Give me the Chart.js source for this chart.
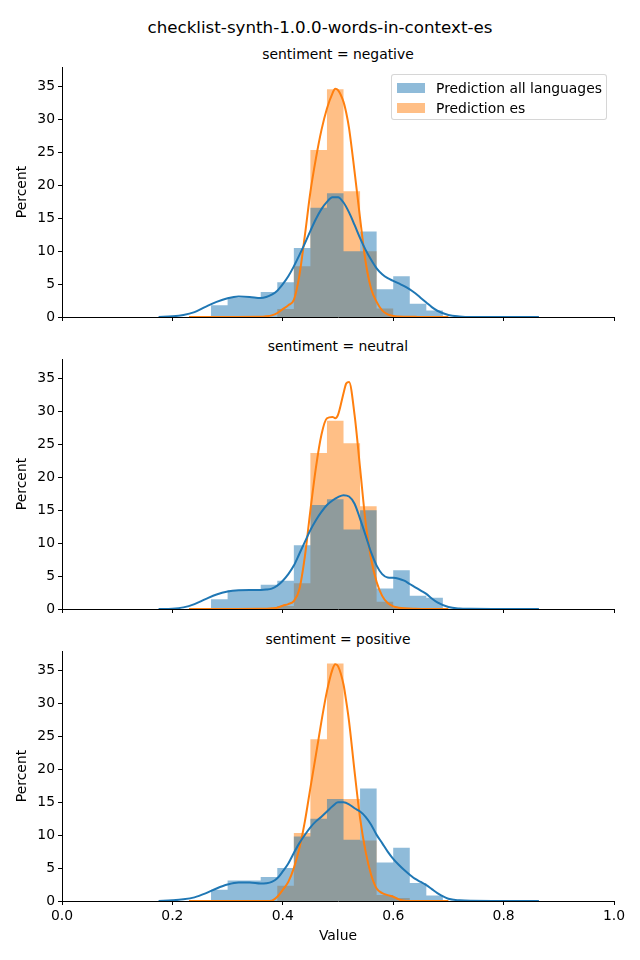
<!DOCTYPE html>
<html>
<head>
<meta charset="utf-8">
<script src="https://cdn.jsdelivr.net/npm/chart.js@4.4.0/dist/chart.umd.min.js"></script>
<style>
  body { margin: 0; background: #fff; font-family: 'DejaVu Sans', sans-serif; }
  #page { position: relative; width: 640px; height: 960px; overflow: hidden; }
  .lbl { position: absolute; white-space: nowrap; transform: translate(-50%, -50%); color: #000; }
  canvas { position: absolute; left: 0; }
  #legend {
    position: absolute; left: 391px; top: 74px; width: 214px; height: 44px;
    border: 1px solid rgba(204,204,204,0.8); border-radius: 3px; background: rgba(255,255,255,0.8);
    font-size: 13.9px; color: #000; z-index: 2;
  }
  .item { position: absolute; left: 5px; height: 16px; display: flex; align-items: center; }
  .sw { width: 28px; height: 10px; margin-right: 11px; }
</style>
</head>
<body>
<div id="page">
  <div class="lbl" style="left:320px;top:27px;font-size:16.7px">checklist-synth-1.0.0-words-in-context-es</div>
  <div class="lbl" style="left:338px;top:54px;font-size:13.9px">sentiment = negative</div>
  <div class="lbl" style="left:338px;top:346px;font-size:13.9px">sentiment = neutral</div>
  <div class="lbl" style="left:338px;top:639px;font-size:13.9px">sentiment = positive</div>
  <canvas id="negChart" width="640" height="278" style="top:53px"></canvas>
  <canvas id="neuChart" width="640" height="278" style="top:345px"></canvas>
  <canvas id="posChart" width="640" height="312" style="top:637px"></canvas>
  <div id="legend"></div>
</div>
<script>
// ─── ข้อมูล ─────────────────────────────────────────────
const SERIES = ['Prediction all languages', 'Prediction es']

// ขอบ bin ของ histogram (ความกว้าง 0.03)
const binEdges = [0.18, 0.21, 0.24, 0.27, 0.30, 0.33, 0.36, 0.39, 0.42, 0.45, 0.48, 0.51,
                  0.54, 0.57, 0.60, 0.63, 0.66, 0.69, 0.72, 0.75, 0.78, 0.81, 0.84, 0.87]

const negAll = [0, 0, 0, 1.8, 2.9, 2.9, 3.8, 5.3, 10.5, 16.6, 18.8, 10.0, 13.0, 4.2, 6.2, 2.0, 1.0, 0, 0, 0, 0, 0, 0]
const negEs  = [0, 0, 0, 0, 0, 0, 0, 1.2, 7.7, 25.4, 34.6, 19.1, 10.0, 1.3, 0, 0, 0, 0, 0, 0, 0, 0, 0]
const neuAll = [0, 0, 0, 1.5, 2.85, 2.85, 3.7, 4.3, 9.7, 15.8, 16.7, 12.1, 15.0, 3.1, 5.9, 2.0, 1.7, 0, 0, 0, 0, 0, 0]
const neuEs  = [0, 0, 0, 0, 0, 0, 0, 0.45, 3.9, 23.7, 28.6, 25.2, 15.6, 1.1, 0.2, 0, 0, 0, 0, 0, 0, 0, 0]
const posAll = [0, 0, 0, 1.7, 3.1, 3.1, 3.65, 5.0, 9.8, 12.5, 15.5, 9.3, 17.1, 5.85, 8.1, 2.75, 0.85, 0, 0, 0, 0, 0, 0]
const posEs  = [0, 0, 0, 0, 0, 0, 0, 2.3, 10.35, 24.6, 36.1, 15.5, 9.2, 0.9, 0.45, 0, 0, 0, 0, 0, 0, 0, 0]

// KDE (อ่านค่าจากภาพ)
const kdeAllX = [0.175, 0.20, 0.22, 0.24, 0.26, 0.28, 0.30, 0.32, 0.34, 0.36,
                 0.37, 0.38, 0.39, 0.40, 0.41, 0.42, 0.43, 0.44, 0.45, 0.46, 0.47, 0.48, 0.49, 0.50,
                 0.51, 0.52, 0.53, 0.54, 0.55, 0.56, 0.57, 0.58, 0.59, 0.60, 0.61, 0.62, 0.63, 0.64,
                 0.65, 0.66, 0.67, 0.68, 0.70, 0.72, 0.74, 0.78, 0.82, 0.864]
const kdeNegAll = [0, 0.1, 0.3, 0.75, 1.55, 2.3, 2.85, 3.1, 3.05, 2.9,
                   3.05, 3.4, 4.0, 5.0, 6.2, 7.7, 9.4, 11.2, 13.1, 14.9, 16.4, 17.5, 18.2, 18.2,
                   17.4, 15.9, 14.0, 12.0, 10.2, 8.7, 7.4, 6.5, 5.9, 5.5, 5.1, 4.7, 4.2, 3.6,
                   2.9, 2.2, 1.5, 0.95, 0.3, 0.08, 0, 0, 0, 0]
const kdeNeuAll = [0, 0.05, 0.25, 0.75, 1.5, 2.2, 2.65, 2.85, 2.9, 2.9,
                   2.95, 3.1, 3.55, 4.3, 5.3, 6.6, 8.4, 10.2, 12.0, 13.5, 14.75, 15.8, 16.5, 17.0,
                   17.3, 17.1, 16.0, 13.7, 11.2, 8.6, 6.6, 5.3, 4.8, 4.75, 4.6, 4.3, 3.8, 3.3,
                   2.8, 2.3, 1.6, 1.0, 0.3, 0.07, 0.02, 0, 0, 0]
const kdePosAll = [0, 0.1, 0.25, 0.55, 1.15, 1.9, 2.5, 2.8, 2.8, 2.65,
                   2.7, 2.9, 3.45, 4.5, 5.7, 7.3, 8.8, 10.05, 11.2, 12.1, 12.8, 13.6, 14.4, 15.0,
                   15.0, 14.7, 14.1, 13.6, 12.8, 11.6, 10.05, 8.8, 7.5, 6.4, 5.5, 4.7, 4.0, 3.35,
                   2.9, 2.4, 1.8, 1.2, 0.35, 0.1, 0.02, 0, 0, 0]

const kdeEsX = [0.23, 0.30, 0.36, 0.37, 0.38, 0.39, 0.40, 0.41, 0.42, 0.43, 0.44, 0.45, 0.46, 0.47,
                0.48, 0.49, 0.495, 0.50, 0.51, 0.515, 0.52, 0.53, 0.54, 0.55, 0.56, 0.57, 0.58,
                0.59, 0.60, 0.61, 0.62, 0.64, 0.66, 0.70]
const kdeNegEs = [0, 0, 0.02, 0.1, 0.25, 0.6, 1.2, 1.8, 2.6, 6.3, 12.4, 19.0, 24.1, 28.4,
                  31.7, 34.0, 34.7, 34.5, 32.7, 31.0, 28.7, 22.1, 15.0, 8.4, 4.3, 2.3, 1.0,
                  0.4, 0.15, 0.08, 0.05, 0.02, 0, 0]
const kdeNeuEs = [0, 0, 0.02, 0.05, 0.1, 0.2, 0.5, 0.75, 1.2, 3.0, 8.0, 15.0, 21.5, 26.5,
                  29.0, 29.2, 29.0, 29.5, 32.8, 34.3, 34.5, 29.5, 21.4, 13.2, 7.6, 4.1, 2.0,
                  0.9, 0.4, 0.2, 0.1, 0.03, 0, 0]
const kdePosEs = [0, 0, 0, 0, 0.05, 0.65, 1.7, 2.9, 5.0, 8.0, 12.1, 17.2, 22.2, 27.3,
                  31.9, 35.2, 36.0, 35.7, 32.9, 30.3, 27.3, 19.7, 12.6, 7.5, 4.0, 1.9, 1.2,
                  0.9, 0.65, 0.25, 0.05, 0, 0, 0]

const yMax = 38

// ─── สี ────────────────────────────────────────────────
const COLORS = {
  blue:     '#1f77b4',
  orange:   '#ff7f0e',
  blueBar:  'rgba(31,119,180,0.5)',
  orangeBar:'rgba(255,127,14,0.5)',
}

Chart.defaults.font.family = "'DejaVu Sans', sans-serif"
Chart.defaults.color = '#000'

const pts = (xs, ys) => xs.map((x, i) => ({ x, y: ys[i] }))
// histogram เป็นเส้นขั้นบันได + fill (ไม่มีรอยต่อระหว่างแท่ง)
const histPts = vals => binEdges.map((x, i) => ({ x, y: i < vals.length ? vals[i] : 0 }))

function histDataset(label, vals, color) {
  return { type: 'line', label, data: histPts(vals), stepped: 'before', fill: 'origin',
           backgroundColor: color, borderWidth: 0, pointRadius: 0, order: 1 }
}

function kdeDataset(xs, ys, color) {
  return { type: 'line', data: pts(xs, ys), borderColor: color, borderWidth: 2,
           pointRadius: 0, cubicInterpolationMode: 'monotone', fill: false, order: 0 }
}

function renderPanel(id, all, es, kdeAll, kdeEs, isBottom) {
  new Chart(document.getElementById(id), {
    type: 'line',
    data: {
      datasets: [
        histDataset(SERIES[0], all, COLORS.blueBar),
        histDataset(SERIES[1], es, COLORS.orangeBar),
        kdeDataset(kdeAllX, kdeAll, COLORS.blue),
        kdeDataset(kdeEsX, kdeEs, COLORS.orange),
      ]
    },
    options: {
      responsive: false, animation: false, events: [],
      layout: { padding: { top: 14, right: 26, bottom: 0, left: 0 } },
      plugins: { legend: { display: false }, tooltip: { enabled: false } },
      scales: {
        x: {
          type: 'linear', min: 0, max: 1, offset: false,
          ticks: { stepSize: 0.2, autoSkip: false, maxRotation: 0, padding: 3,
                   color: isBottom ? '#000' : 'rgba(0,0,0,0)', font: { size: 13.9 },
                   callback: v => v.toFixed(1) },
          grid: { drawOnChartArea: false, tickLength: 4, color: '#000' },
          border: { color: '#000', width: 1 },
          title: { display: isBottom, text: 'Value', color: '#000', font: { size: 13.9 },
                   padding: { top: 0, bottom: 4 } },
          afterFit: s => { s.height = isBottom ? 48 : 14 }
        },
        y: {
          min: 0, max: yMax,
          ticks: { stepSize: 5, includeBounds: false, padding: 3, color: '#000', font: { size: 13.9 } },
          grid: { drawOnChartArea: false, tickLength: 4, color: '#000' },
          border: { color: '#000', width: 1 },
          title: { display: true, text: 'Percent', color: '#000', font: { size: 13.9 },
                   padding: { top: 14, bottom: 0 } },
          afterFit: s => { s.width = 62 }
        }
      }
    }
  })
}

renderPanel('negChart', negAll, negEs, kdeNegAll, kdeNegEs, false)
renderPanel('neuChart', neuAll, neuEs, kdeNeuAll, kdeNeuEs, false)
renderPanel('posChart', posAll, posEs, kdePosAll, kdePosEs, true)

// Custom legend
const swatches = [COLORS.blueBar, COLORS.orangeBar]
document.getElementById('legend').innerHTML = SERIES.map((s, i) =>
  `<div class="item" style="top:${5 + i * 20}px"><span class="sw" style="background:${swatches[i]}"></span>${s}</div>`
).join('')
</script>
</body>
</html>
